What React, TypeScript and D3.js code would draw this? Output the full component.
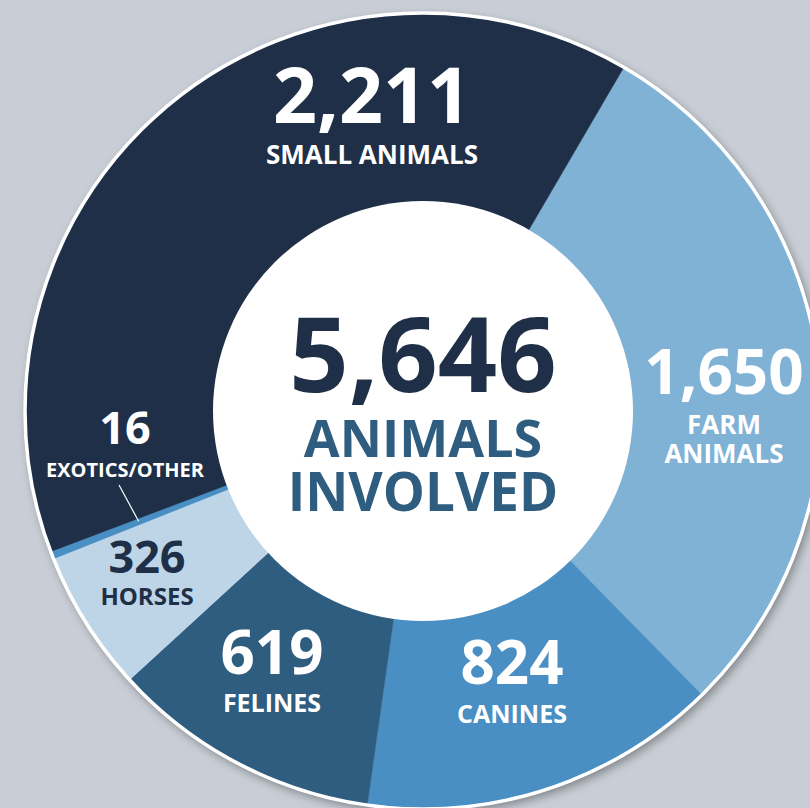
import React from "react";
import * as d3 from "d3";

// ---- data ----
const categories = ["FARM ANIMALS", "CANINES", "FELINES", "HORSES", "EXOTICS/OTHER", "SMALL ANIMALS"];
const values = [1650, 824, 619, 326, 16, 2211];
const labelLines = [["FARM", "ANIMALS"], ["CANINES"], ["FELINES"], ["HORSES"], ["EXOTICS/OTHER"], ["SMALL ANIMALS"]];
const centerLines = ["ANIMALS", "INVOLVED"];

// ---- styles / layout ----
const W = 810;
const H = 808;
const CX = 423;
const CY = 411;
const R_OUT = 397;
const R_IN = 210;
const START_DEG = 30.3;
const sliceColors = ["#80b2d6", "#4a8fc3", "#2f5d80", "#bed5e8", "#4a8fc3", "#1e2f47"];
const sliceStroke = [0.5, 0.5, 0.5, 0.5, 2, 0.5];
const textColors = ["#ffffff", "#ffffff", "#ffffff", "#1e2f47", "#ffffff", "#ffffff"];
// label anchor (number baseline) relative to center, font sizes, line spacing
const labelLayout = [
  { dx: 301, dy: -17, num: 62, lab: 26, gap: 40, lh: 29 },
  { dx: 89, dy: 273, num: 60, lab: 25, gap: 39, lh: 28 },
  { dx: -151, dy: 263, num: 60, lab: 25, gap: 38, lh: 28 },
  { dx: -276, dy: 162, num: 45, lab: 24, gap: 32, lh: 26 },
  { dx: -298, dy: 33, num: 45, lab: 20, gap: 33, lh: 22 },
  { dx: -51, dy: -288, num: 77, lab: 26, gap: 41, lh: 28 },
];
const FONT = "'Open Sans', 'Noto Sans', sans-serif";

export default function App() {
  const pie = d3
    .pie<number>()
    .sort(null)
    .value((d) => d)
    .startAngle((START_DEG * Math.PI) / 180)
    .endAngle((START_DEG * Math.PI) / 180 + 2 * Math.PI);
  const arcs = pie(values);
  const arc = d3.arc<d3.PieArcDatum<number>>().innerRadius(0).outerRadius(R_OUT);
  const fmt = d3.format(",");
  const total = d3.sum(values);

  // leader line for exotics: from label toward slice middle
  const exo = arcs[4];
  const exoMid = (exo.startAngle + exo.endAngle) / 2;
  const leaderEnd = d3.arc<any>().innerRadius(305).outerRadius(305).centroid({ startAngle: exoMid, endAngle: exoMid });

  return (
    <svg width={W} height={H} style={{ position: "absolute", left: 0, top: 0, display: "block" }}>
      <defs>
        <filter id="sh" x="-10%" y="-10%" width="120%" height="120%">
          <feDropShadow dx="3" dy="4" stdDeviation="5" floodColor="#000" floodOpacity="0.35" />
        </filter>
      </defs>
      <rect width={W} height={H} fill="#c9ced6" />
      <g transform={`translate(${CX},${CY})`}>
        <circle r={R_OUT + 2} fill="#ffffff" filter="url(#sh)" />
        {arcs.map((a, i) => (
          <path key={categories[i]} d={arc(a) || ""} fill={sliceColors[i]} stroke={sliceColors[i]} strokeWidth={sliceStroke[i]} />
        ))}
        <circle r={R_OUT + 1} fill="none" stroke="#ffffff" strokeWidth={3.5} />
        <circle r={R_IN} fill="#ffffff" />
        {/* leader line for exotics */}
        <line x1={-304} y1={74} x2={leaderEnd[0]} y2={leaderEnd[1]} stroke="#ffffff" strokeWidth={1.2} />
        {arcs.map((a, i) => {
          const L = labelLayout[i];
          return (
            <text
              key={"l" + i}
              transform={`translate(${L.dx},${L.dy})`}
              fill={textColors[i]}
              fontFamily={FONT}
              fontWeight={700}
              textAnchor="middle"
            >
              <tspan x={0} y={0} fontSize={L.num}>{fmt(values[i])}</tspan>
              {labelLines[i].map((t, j) => (
                <tspan key={t} x={0} y={L.gap + j * L.lh} fontSize={L.lab}>
                  {t}
                </tspan>
              ))}
            </text>
          );
        })}
        <text fontFamily={FONT} fontWeight={700} textAnchor="middle">
          <tspan x={0} y={-19} fontSize={104} fill="#1e2f47">{fmt(total)}</tspan>
          <tspan x={0} y={46} fontSize={52} fill="#2f5d80">{centerLines[0]}</tspan>
          <tspan x={0} y={100} fontSize={53} fill="#2f5d80">{centerLines[1]}</tspan>
        </text>
      </g>
    </svg>
  );
}
